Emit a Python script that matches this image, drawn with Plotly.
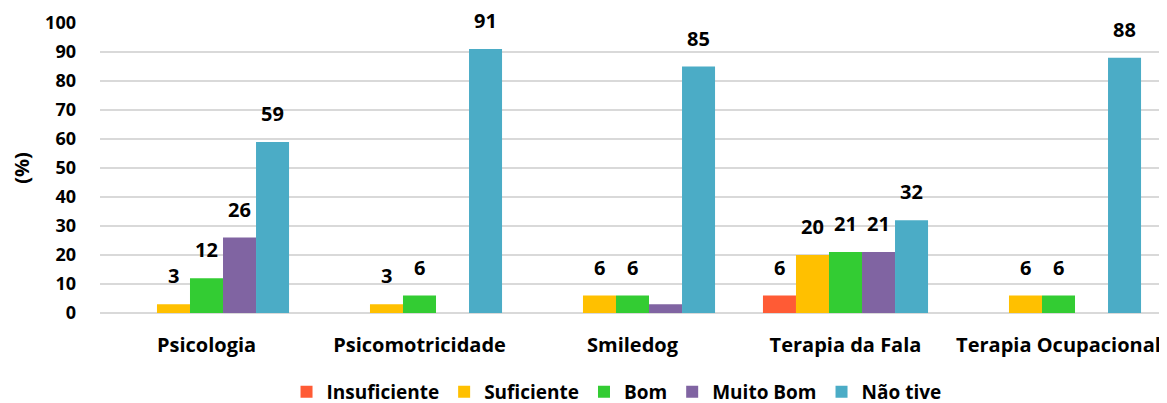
import plotly.graph_objects as go

categories = ["Psicologia", "Psicomotricidade", "Smiledog", "Terapia da Fala", "Terapia Ocupacional"]

insuficiente = [None, None, None, 6, None]
suficiente = [3, 3, 6, 20, 6]
bom = [12, 6, 6, 21, 6]
muito_bom = [26, None, 3, 21, None]
nao_tive = [59, 91, 85, 32, 88]

# value labels written above the bars (the small Smiledog "Muito Bom" bar has none)
muito_bom_labels = ["26", "", "", "21", ""]

series = [
    ("Insuficiente", insuficiente, "#FF5B35", None),
    ("Suficiente", suficiente, "#FFC000", None),
    ("Bom", bom, "#33CC33", None),
    ("Muito Bom", muito_bom, "#8064A2", muito_bom_labels),
    ("Não tive", nao_tive, "#4BACC6", None),
]

font = "Open Sans"
bargap = 0.225
n = len(series)
slot = (1 - bargap) / n

fig = go.Figure()
annotations = []
for j, (name, values, color, labels) in enumerate(series):
    if labels is None:
        labels = ["" if v is None else str(v) for v in values]
    fig.add_trace(go.Bar(
        x=categories, y=values, name=name,
        marker=dict(color=color, line=dict(width=0)),
    ))
    # data labels, lifted a bit above the bar end like the original
    for i, (v, lab) in enumerate(zip(values, labels)):
        if v is None or not lab:
            continue
        annotations.append(dict(
            x=i + (j - (n - 1) / 2) * slot, y=v, xref="x", yref="y",
            text=lab, showarrow=False, yanchor="bottom", yshift=13,
            font=dict(family=font, size=20, color="black", weight="bold"),
        ))

# the page body keeps its default 8px margin, so the margins below allow for it
fig.update_layout(
    width=1167, height=403,
    barmode="group", bargap=bargap, bargroupgap=0,
    plot_bgcolor="white", paper_bgcolor="white",
    margin=dict(l=92, r=10, t=15, b=98, autoexpand=False),
    font=dict(family=font, size=17, color="black", weight="bold"),
    showlegend=True,
    legend=dict(orientation="h", x=0.485, xanchor="center", y=-0.272, yanchor="middle",
                font=dict(family=font, size=19, weight="bold"),
                traceorder="normal", itemwidth=30),
    annotations=annotations,
)
fig.update_yaxes(
    range=[0, 100], dtick=10, showgrid=True, gridcolor="#D9D9D9", gridwidth=1.5,
    zeroline=True, zerolinecolor="#D9D9D9", zerolinewidth=1.5,
    ticks="", ticklabelstandoff=23,
    tickfont=dict(family=font, size=18, weight="bold"),
    title=dict(text="(%)", font=dict(family=font, size=20, weight="bold"), standoff=36),
)
fig.update_xaxes(
    showline=False, ticks="", ticklabelstandoff=18,
    tickfont=dict(family=font, size=20, weight="bold"),
)

fig.write_html("out.html")
